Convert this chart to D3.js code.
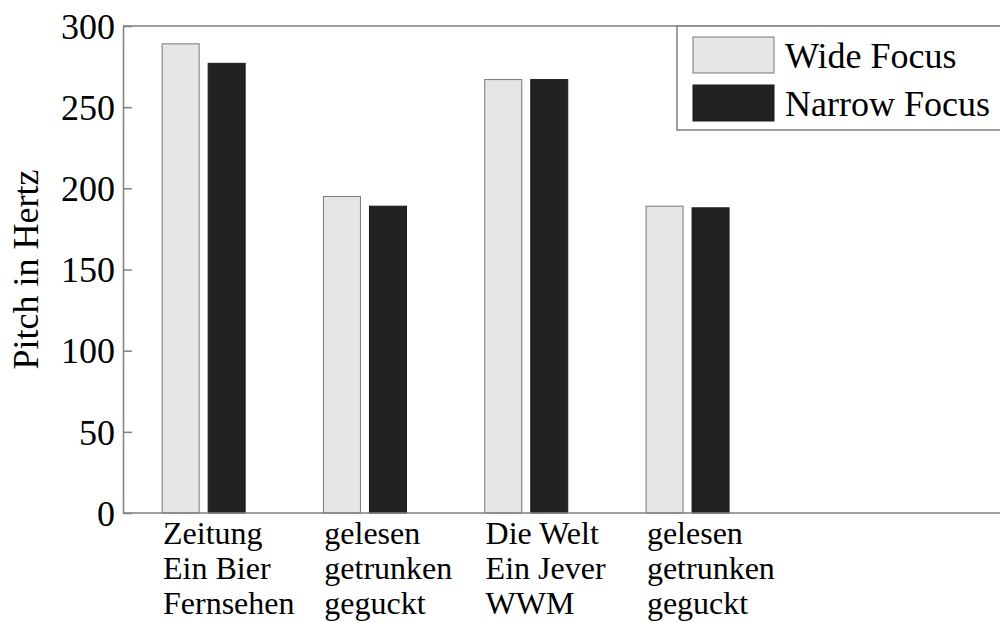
<!DOCTYPE html>
<html>
<head>
<meta charset="utf-8">
<script src="https://cdn.jsdelivr.net/npm/d3@7"></script>
<style>
  html, body { margin: 0; padding: 0; background: #fff; }
  svg { display: block; }
  text { font-family: "Liberation Serif", "Times New Roman", serif; fill: #000; }
</style>
</head>
<body>
<svg id="chart" width="1000" height="622"></svg>
<script>
// ---- Data ----
const categories = [
  ["Zeitung", "Ein Bier", "Fernsehen"],
  ["gelesen", "getrunken", "geguckt"],
  ["Die Welt", "Ein Jever", "WWM"],
  ["gelesen", "getrunken", "geguckt"]
];
const seriesNames = ["Wide Focus", "Narrow Focus"];
const wideFocus = [289, 195, 267, 189];
const narrowFocus = [277, 189, 267, 188];
const yTicks = [0, 50, 100, 150, 200, 250, 300];
const yLabel = "Pitch in Hertz";

// ---- Layout ----
const svg = d3.select("#chart");
const mLeft = 123, mTop = 26, mBottom = 513;
const step = 161.3;
const plotRight = mLeft + 6 * step; // extends beyond the visible window

const colors = { "Wide Focus": "#e6e6e6", "Narrow Focus": "#222222" };
const strokes = { "Wide Focus": "#777777", "Narrow Focus": "#1a1a1a" };

const groupIdx = categories.map((d, i) => i);
const x0 = d3.scaleBand().domain(groupIdx).range([mLeft, mLeft + categories.length * step]).padding(0);
const x1 = d3.scaleBand().domain(seriesNames).range([-41.5, 41.5]).paddingInner(0.196).paddingOuter(0);
const y = d3.scaleLinear().domain([0, 300]).range([mBottom, mTop]);

const rows = groupIdx.map(i => ({ i, values: [
  { key: seriesNames[0], value: wideFocus[i] },
  { key: seriesNames[1], value: narrowFocus[i] }
]}));

// Bars
const g = svg.append("g");
g.selectAll("g.grp").data(rows).join("g")
  .attr("class", "grp")
  .attr("transform", d => `translate(${x0(d.i) + x0.bandwidth() / 2},0)`)
  .selectAll("rect").data(d => d.values).join("rect")
  .attr("x", d => x1(d.key))
  .attr("width", x1.bandwidth())
  .attr("y", d => y(d.value))
  .attr("height", d => y(0) - y(d.value))
  .attr("fill", d => colors[d.key])
  .attr("stroke", d => strokes[d.key])
  .attr("stroke-width", 1);

// Box lines (top, bottom) and axes
const axisColor = "#808080";
svg.append("line").attr("x1", mLeft).attr("x2", plotRight).attr("y1", mTop).attr("y2", mTop)
  .attr("stroke", axisColor).attr("stroke-width", 1.5);
svg.append("line").attr("x1", mLeft).attr("x2", plotRight).attr("y1", mBottom).attr("y2", mBottom)
  .attr("stroke", axisColor).attr("stroke-width", 1.5);

const yAxis = d3.axisLeft(y).tickValues(yTicks).tickSize(0).tickPadding(8);
const ya = svg.append("g").attr("transform", `translate(${mLeft},0)`).call(yAxis);
ya.select(".domain").attr("stroke", axisColor).attr("stroke-width", 1.5);
ya.selectAll(".tick text")
  .attr("font-size", 36)
  .attr("font-family", "Liberation Serif, Times New Roman, serif")
  .attr("fill", "#000")
  .attr("x", -8)
  .attr("dy", "0.34em");
// inward ticks
ya.selectAll(".tick").append("line")
  .attr("x1", 0).attr("x2", 9).attr("y1", 0).attr("y2", 0)
  .attr("stroke", axisColor).attr("stroke-width", 1.5);

// Y label
svg.append("text")
  .attr("transform", `translate(38, ${(mTop + mBottom) / 2}) rotate(-90)`)
  .attr("text-anchor", "middle")
  .attr("font-size", 36)
  .text(yLabel);

// X category labels (multi-line, left aligned)
const labelG = svg.append("g");
labelG.selectAll("text.cat").data(rows).join("text")
  .attr("class", "cat")
  .attr("font-size", 32)
  .attr("x", d => x0(d.i) + 40)
  .attr("y", 544)
  .selectAll("tspan").data(d => categories[d.i]).join("tspan")
  .attr("x", function () { return d3.select(this.parentNode).attr("x"); })
  .attr("dy", (d, k) => k === 0 ? 0 : 35)
  .text(d => d);

// Legend
const leg = svg.append("g");
leg.append("rect")
  .attr("x", 677).attr("y", mTop).attr("width", 340).attr("height", 104)
  .attr("fill", "#fff").attr("stroke", axisColor).attr("stroke-width", 1.5);
const legItems = leg.selectAll("g.li").data(seriesNames).join("g")
  .attr("class", "li")
  .attr("transform", (d, i) => `translate(693, ${37 + i * 48})`);
legItems.append("rect")
  .attr("width", 81).attr("height", 36)
  .attr("fill", d => colors[d])
  .attr("stroke", d => strokes[d]).attr("stroke-width", 1);
legItems.append("text")
  .attr("x", 92).attr("y", 31)
  .attr("font-size", 36)
  .text(d => d);
</script>
</body>
</html>
